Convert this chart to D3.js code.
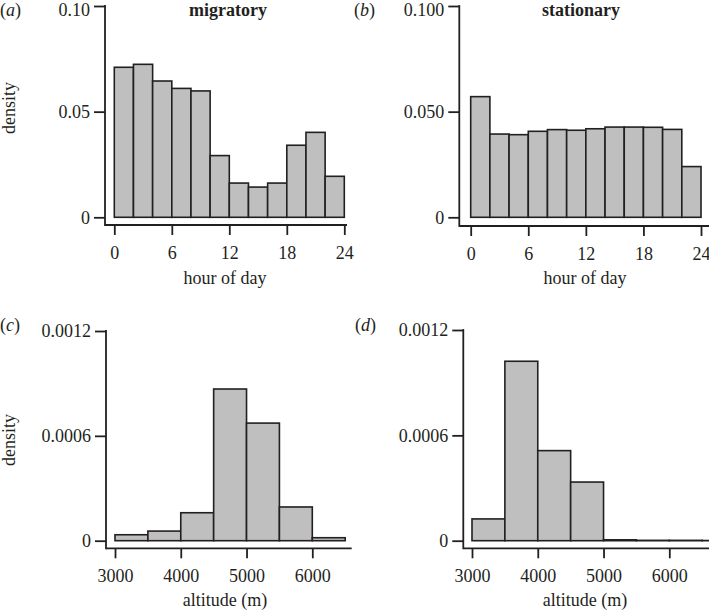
<!DOCTYPE html>
<html>
<head>
<meta charset="utf-8">
<script src="https://cdn.jsdelivr.net/npm/d3@7/dist/d3.min.js"></script>
<style>
  html, body { margin: 0; padding: 0; background: #fff; }
  svg { display: block; }
  text { font-family: "Liberation Serif", "DejaVu Serif", serif; fill: #231f20; }
</style>
</head>
<body>
<svg id="chart" width="709" height="610"></svg>
<script>
// ---------------- DATA ----------------
const hourEdges = [0, 2, 4, 6, 8, 10, 12, 14, 16, 18, 20, 22, 24];
const migratoryHourDensity = [0.0710, 0.0724, 0.0645, 0.0610, 0.0598, 0.0292, 0.0162, 0.0143, 0.0162, 0.0341, 0.0402, 0.0194];
const stationaryHourDensity = [0.0571, 0.0394, 0.0391, 0.0407, 0.0415, 0.0412, 0.0419, 0.0427, 0.0427, 0.0426, 0.0416, 0.0240];

const altEdgesMigratory = [3000, 3500, 4000, 4500, 5000, 5500, 6000, 6500];
const migratoryAltDensity = [0.000034, 0.000055, 0.00016, 0.000868, 0.000673, 0.000193, 0.000017];
const altEdgesStationary = [3000, 3500, 4000, 4500, 5000, 5500, 6000, 6500, 7000];
const stationaryAltDensity = [0.000124, 0.001022, 0.000513, 0.000334, 0.000005, 0.000002, 0.000002, 0.000001];

const hourTicks = [0, 6, 12, 18, 24];
const altTicks = [3000, 4000, 5000, 6000];
const hourYTicksA = [0, 0.05, 0.10];
const hourYLabelsA = ["0", "0.05", "0.10"];
const hourYTicksB = [0, 0.05, 0.10];
const hourYLabelsB = ["0", "0.050", "0.100"];
const altYTicks = [0, 0.0006, 0.0012];
const altYLabels = ["0", "0.0006", "0.0012"];

const panelLetters = ["a", "b", "c", "d"];
const panelTitles = ["migratory", "stationary", "", ""];
const xTitles = ["hour of day", "hour of day", "altitude (m)", "altitude (m)"];
const yTitle = "density";

// ---------------- LAYOUT ----------------
const svg = d3.select("#chart");
const FS = 18;
const INK = "#231f20";
const FILL = "#bfbfc0";

const panels = [
  { edges: hourEdges, values: migratoryHourDensity, xDom: [0, 24], xR: [114.3, 344.3], yDom: [0, 0.10], yR: [217.3, 6],
    yAxisX: 105, xAxisY: 225, xAxisEnd: 347, xTicks: hourTicks, yTicks: hourYTicksA, yLabels: hourYLabelsA, topShift: 4,
    letterPos: [0, 16], titleX: 228, titleY: 16, yTitlePos: [15, 108], xTitlePos: [225, 284] },
  { edges: hourEdges, values: stationaryHourDensity, xDom: [0, 24], xR: [470.7, 701], yDom: [0, 0.10], yR: [217.3, 6],
    yAxisX: 459.3, xAxisY: 226, xAxisEnd: 709, xTicks: hourTicks, yTicks: hourYTicksB, yLabels: hourYLabelsB, topShift: 4,
    letterPos: [354, 16], titleX: 581, titleY: 16, yTitlePos: null, xTitlePos: [585, 284] },
  { edges: altEdgesMigratory, values: migratoryAltDensity, xDom: [3000, 6000], xR: [115, 312.3], yDom: [0, 0.0012], yR: [540.7, 331],
    yAxisX: 106, xAxisY: 548.3, xAxisEnd: 351.7, xTicks: altTicks, yTicks: altYTicks, yLabels: altYLabels, topShift: 0,
    letterPos: [0, 331], titleX: 0, titleY: 0, yTitlePos: [15, 440], xTitlePos: [225, 606] },
  { edges: altEdgesStationary, values: stationaryAltDensity, xDom: [3000, 6000], xR: [472, 669.3], yDom: [0, 0.0012], yR: [540.7, 330],
    yAxisX: 463.3, xAxisY: 548.3, xAxisEnd: 709, xTicks: altTicks, yTicks: altYTicks, yLabels: altYLabels, topShift: 0,
    letterPos: [355, 331], titleX: 0, titleY: 0, yTitlePos: null, xTitlePos: [585, 606] }
];

panels.forEach((p, i) => {
  const g = svg.append("g");
  const x = d3.scaleLinear().domain(p.xDom).range(p.xR);
  const y = d3.scaleLinear().domain(p.yDom).range(p.yR);

  // bars
  const bins = p.values.map((v, k) => ({ x0: p.edges[k], x1: p.edges[k + 1], v }));
  g.append("g").selectAll("rect").data(bins).join("rect")
    .attr("x", d => x(d.x0))
    .attr("width", d => x(d.x1) - x(d.x0))
    .attr("y", d => y(d.v))
    .attr("height", d => y(0) - y(d.v))
    .attr("fill", FILL)
    .attr("stroke", INK)
    .attr("stroke-width", 1.6);

  // y axis
  const yAxis = d3.axisLeft(y).tickValues(p.yTicks)
    .tickFormat((d, k) => p.yLabels[k]).tickSize(11).tickPadding(4).tickSizeOuter(0);
  const ya = g.append("g").attr("transform", `translate(${p.yAxisX},0)`).call(yAxis);
  ya.select(".domain").remove();
  ya.selectAll(".tick line").attr("stroke", INK).attr("stroke-width", 1.8);
  ya.selectAll(".tick text").attr("font-size", FS).attr("font-family", "Liberation Serif").attr("fill", INK)
    .attr("dy", (d, k) => (k === p.yTicks.length - 1 ? p.topShift : 0) + 0.32 * FS);
  g.append("line").attr("x1", p.yAxisX).attr("x2", p.yAxisX)
    .attr("y1", y(p.yDom[1]) - 0.9).attr("y2", p.xAxisY + 0.9)
    .attr("stroke", INK).attr("stroke-width", 1.8);

  // x axis
  const xAxis = d3.axisBottom(x).tickValues(p.xTicks).tickFormat(d3.format("d"))
    .tickSize(10).tickPadding(11).tickSizeOuter(0);
  const xa = g.append("g").attr("transform", `translate(0,${p.xAxisY})`).call(xAxis);
  xa.select(".domain").remove();
  xa.selectAll(".tick line").attr("stroke", INK).attr("stroke-width", 1.8);
  xa.selectAll(".tick text").attr("font-size", FS).attr("font-family", "Liberation Serif").attr("fill", INK);
  g.append("line").attr("x1", p.yAxisX).attr("x2", p.xAxisEnd)
    .attr("y1", p.xAxisY).attr("y2", p.xAxisY)
    .attr("stroke", INK).attr("stroke-width", 1.8);

  // panel letter
  const lt = g.append("text").attr("x", p.letterPos[0]).attr("y", p.letterPos[1]).attr("font-size", FS);
  lt.append("tspan").text("(");
  lt.append("tspan").attr("font-style", "italic").text(panelLetters[i]);
  lt.append("tspan").text(")");

  // title
  if (panelTitles[i]) {
    g.append("text").attr("x", p.titleX).attr("y", p.titleY).attr("text-anchor", "middle")
      .attr("font-size", FS).attr("font-weight", "bold").text(panelTitles[i]);
  }

  // y title
  if (p.yTitlePos) {
    g.append("text").attr("transform", `translate(${p.yTitlePos[0]},${p.yTitlePos[1]}) rotate(-90)`)
      .attr("text-anchor", "middle").attr("font-size", FS).text(yTitle);
  }

  // x title
  g.append("text").attr("x", p.xTitlePos[0]).attr("y", p.xTitlePos[1]).attr("text-anchor", "middle")
    .attr("font-size", FS).text(xTitles[i]);
});
</script>
</body>
</html>
